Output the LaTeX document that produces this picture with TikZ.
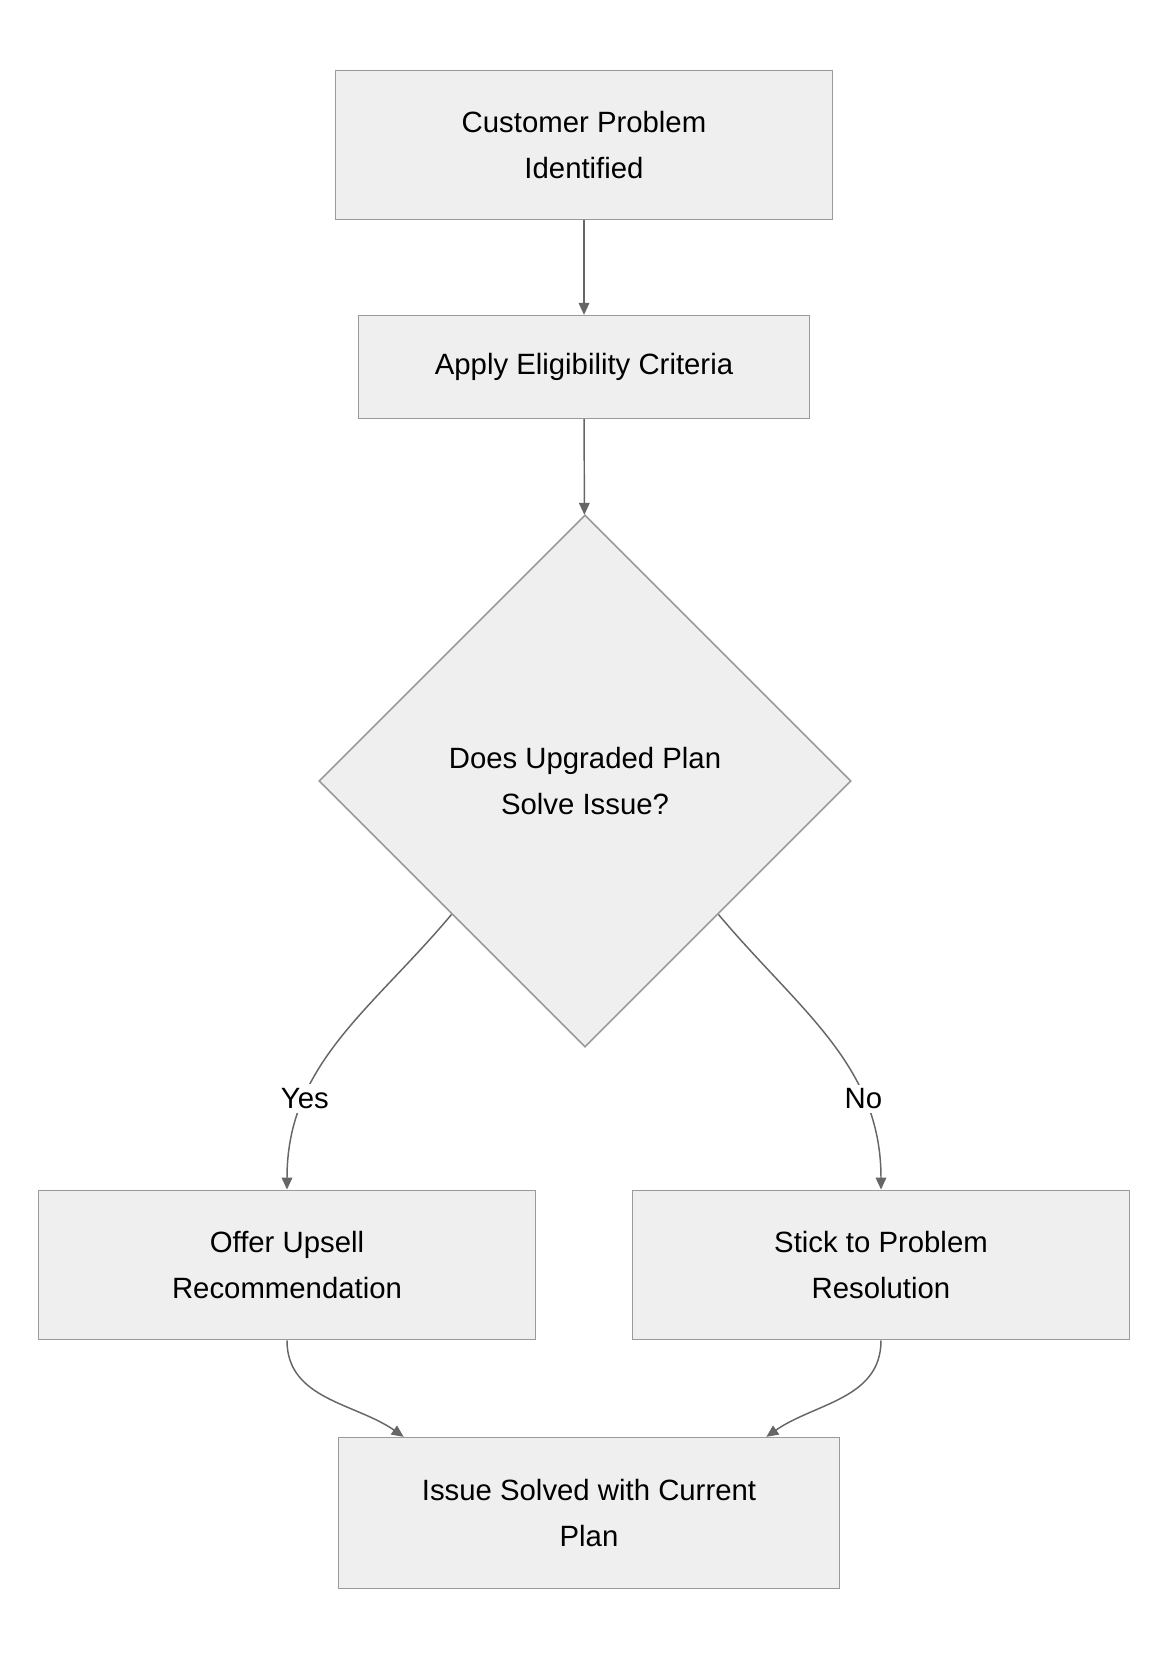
\documentclass[tikz,border=0pt]{standalone}
\usepackage{fontspec}
\setmainfont{Liberation Sans}
\usetikzlibrary{shapes.geometric,arrows.meta,positioning}
\definecolor{boxfill}{HTML}{EFEFEF}
\definecolor{boxline}{HTML}{9A9A9A}
\definecolor{arrline}{HTML}{666666}
\begin{document}
\begin{tikzpicture}[x=0.75pt, y=0.75pt,
    every node/.style={font=\fontsize{22}{34}\selectfont},
    process/.style={rectangle, draw=boxline, fill=boxfill, line width=1.2pt, align=center, inner sep=0pt},
    choice/.style={diamond, draw=boxline, fill=boxfill, line width=1.2pt, align=center, inner sep=0pt, minimum width=399pt, minimum height=399pt},
    arr/.style={draw=arrline, line width=1.1pt, -{Triangle[length=9pt,width=8pt]}},
    lbl/.style={fill=white, inner sep=3pt}]
    \useasboundingbox (0,0) rectangle (1172,1660);

    % Boxes
    \node [process, minimum width=373pt, minimum height=112pt] (problem) at (584,1515) {Customer Problem\\Identified};
    \node [process, minimum width=338pt, minimum height=77pt] (criteria) at (584,1293) {Apply Eligibility Criteria};
    \node [choice] (solve) at (585,879) {Does Upgraded Plan\\Solve Issue?};
    \node [process, minimum width=373pt, minimum height=112pt] (upsell) at (287,395) {Offer Upsell\\Recommendation};
    \node [process, minimum width=373pt, minimum height=112pt] (resolve) at (881,395) {Stick to Problem\\Resolution};
    \node [process, minimum width=376pt, minimum height=113pt] (solved) at (589,147) {Issue Solved with Current\\Plan};

    \coordinate (solvedL) at ([xshift=-139pt]solved.north);
    \coordinate (solvedR) at ([xshift=133pt]solved.north);

    % Arrows
    \draw [arr] (problem) -- (criteria);
    \draw [arr] (criteria) -- (solve);
    \draw [arr] (solve.south west) to[out=-130, in=90] node[lbl, pos=0.72] {Yes} (upsell.north);
    \draw [arr] (solve.south east) to[out=-50, in=90] node[lbl, pos=0.72] {No} (resolve.north);
    \draw [arr] (upsell.south) to[out=-90, in=145] (solvedL);
    \draw [arr] (resolve.south) to[out=-90, in=35] (solvedR);
\end{tikzpicture}
\end{document}
